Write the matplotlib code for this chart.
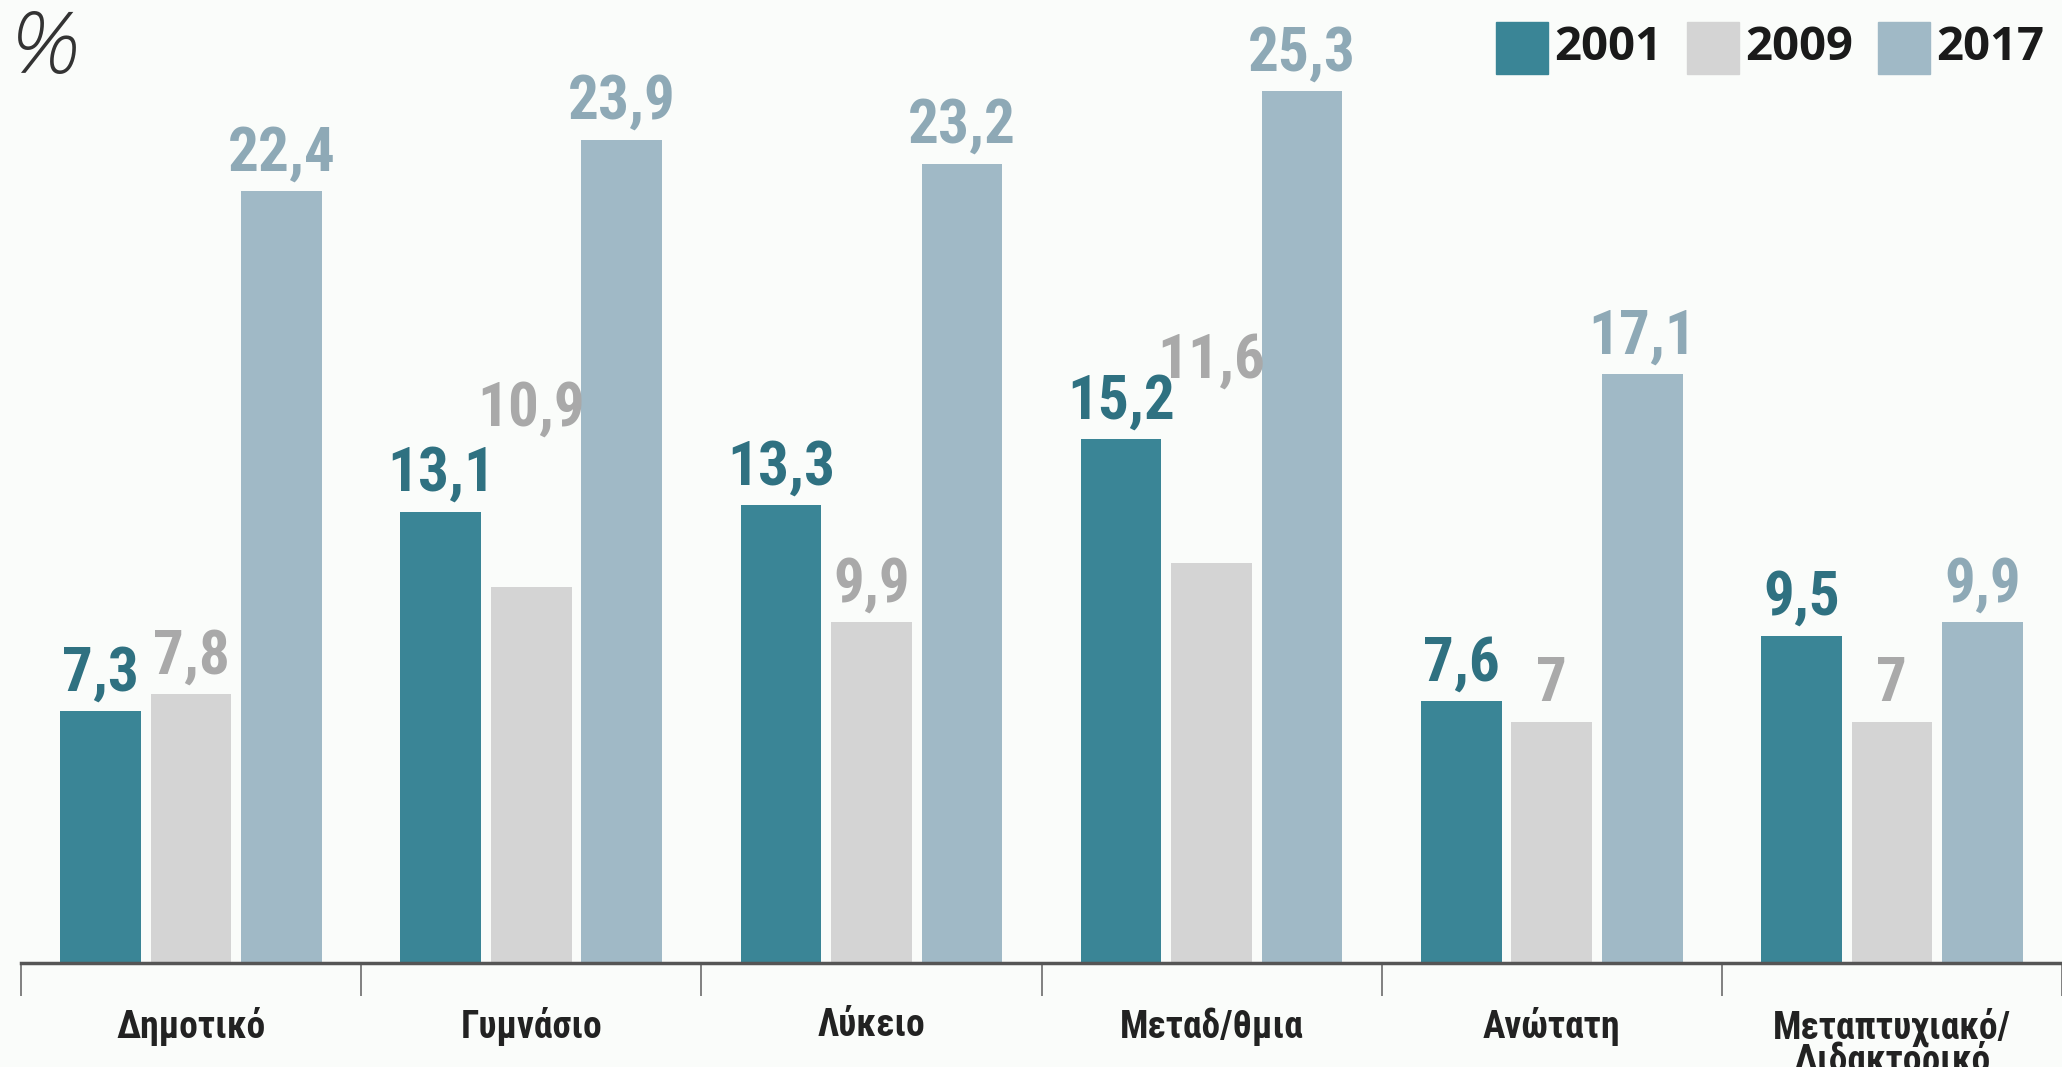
import numpy as np
import matplotlib
matplotlib.use('Agg')
import matplotlib.pyplot as plt

categories = ['Δημοτικό', 'Γυμνάσιο', 'Λύκειο', 'Μεταδ/θμια', 'Ανώτατη',
              'Μεταπτυχιακό/\nΔιδακτορικό']
years = ['2001', '2009', '2017']
v2001 = [7.3, 13.1, 13.3, 15.2, 7.6, 9.5]
v2009 = [7.8, 10.9, 9.9, 11.6, 7.0, 7.0]
v2017 = [22.4, 23.9, 23.2, 25.3, 17.1, 9.9]
series = [v2001, v2009, v2017]

bar_colors = ['#3a8596', '#d4d4d4', '#a0b9c6']
text_colors = ['#2f7181', '#a9a9a9', '#8ea9b6']
# the original graphic lifts two of the 2009 labels well above their bars
label_lift = {(1, 1): 4.1, (1, 3): 4.8}

cond_font = ['Roboto Condensed', 'Open Sans Condensed', 'DejaVu Sans']
bg = '#fafcfa'

fig = plt.figure(figsize=(20.62, 10.67), dpi=100, facecolor=bg)
ax = fig.add_axes([0.0102, 0.0975, 0.9898, 0.9025], facecolor=bg)

x = np.arange(len(categories))
step = 0.266
width = 0.237
for i, vals in enumerate(series):
    xs = x + (i - 1) * step
    ax.bar(xs, vals, width=width, color=bar_colors[i], zorder=2)
    for j, v in enumerate(vals):
        lab = f'{v:g}'.replace('.', ',')
        ax.text(xs[j], v + 0.25 + label_lift.get((i, j), 0), lab,
                ha='center', va='bottom', fontsize=44, fontweight='bold',
                family=cond_font, color=text_colors[i])

ax.set_xlim(-0.5, 5.468)
ax.set_ylim(0, 27.95)

for s in ['top', 'right', 'left']:
    ax.spines[s].set_visible(False)
ax.spines['bottom'].set_color('#555555')
ax.spines['bottom'].set_linewidth(2.5)
ax.set_yticks([])

ax.set_xticks(np.arange(len(categories) + 1) - 0.5, minor=False)
ax.set_xticklabels([])
ax.tick_params(axis='x', which='major', length=24, width=1.3, color='#777777')
ax.set_xticks(x, minor=True)
ax.set_xticklabels(categories, minor=True, fontsize=27, fontweight='bold',
                   family=cond_font, color='#222222', linespacing=0.8)
ax.tick_params(axis='x', which='minor', length=0, pad=32)
for t in ax.get_xticklabels(minor=True):
    t.set_verticalalignment('top')

# percent sign
fig.text(0.006, 0.952, '%', fontsize=62, style='italic', color='#333333',
         family=['Open Sans', 'DejaVu Sans'], ha='left', va='center',
         fontweight='light')

# legend
leg_x = [1496, 1687, 1878]
for i, yr in enumerate(years):
    fig.patches.append(plt.Rectangle((leg_x[i] / 2062, 1 - 74 / 1067),
                                     52 / 2062, 52 / 1067,
                                     transform=fig.transFigure,
                                     color=bar_colors[i]))
    fig.text((leg_x[i] + 58) / 2062, 1 - 48 / 1067, yr, fontsize=34,
             fontweight='bold', family=['Open Sans', 'DejaVu Sans'],
             color='#1a1a1a', ha='left', va='center')

fig.savefig('out.png', dpi=100, facecolor=bg)
